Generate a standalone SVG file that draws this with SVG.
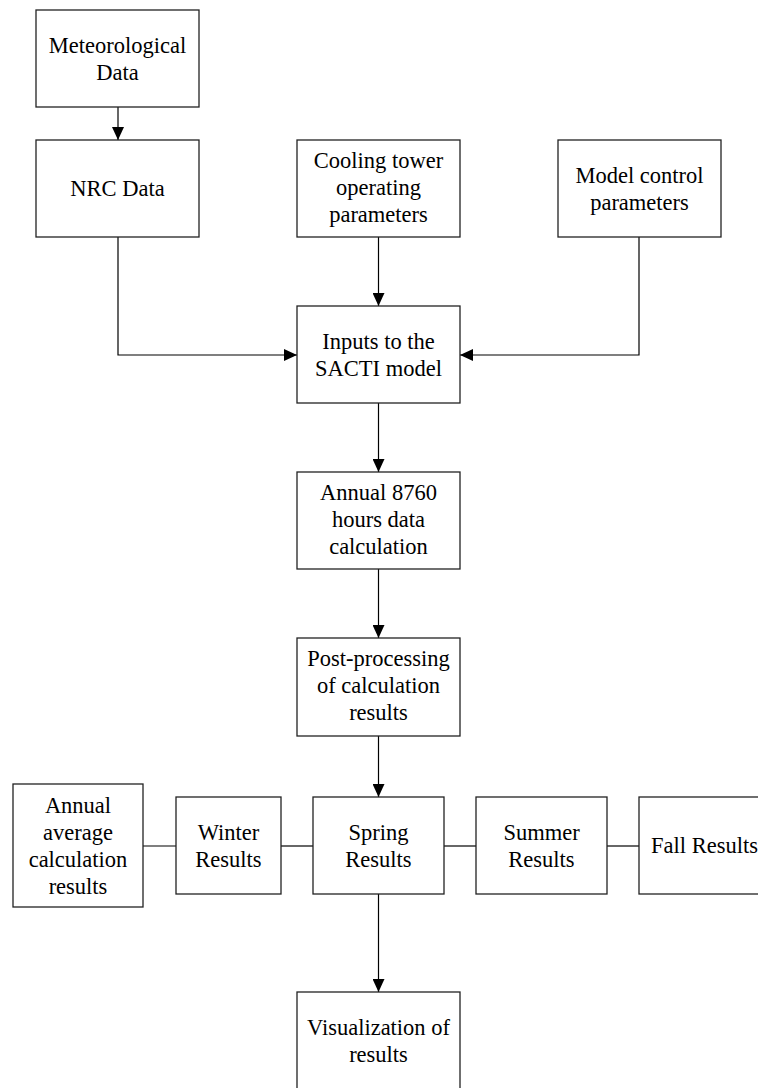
<svg xmlns="http://www.w3.org/2000/svg" width="758" height="1088" viewBox="0 0 758 1088">
<style>
.box{fill:#fff;stroke:#222;stroke-width:1.3}
.t{font-family:"Liberation Serif","Times New Roman",serif;font-size:22.5px;fill:#000;text-anchor:middle}
.c{fill:none;stroke:#000;stroke-width:1.2}
</style>
<defs>
<marker id="ah" markerUnits="userSpaceOnUse" markerWidth="13" markerHeight="12" refX="13" refY="6" orient="auto">
<path d="M0,0 L13,6 L0,12 z" fill="#000"/>
</marker>
</defs>
<rect width="758" height="1088" fill="#fff"/>
<g id="connectors">
<line class="c" x1="118" y1="107" x2="118" y2="140" marker-end="url(#ah)"/>
<line class="c" x1="378.5" y1="237" x2="378.5" y2="306" marker-end="url(#ah)"/>
<polyline class="c" points="118,237 118,355 297,355" marker-end="url(#ah)"/>
<polyline class="c" points="639,237 639,355 460,355" marker-end="url(#ah)"/>
<line class="c" x1="378.5" y1="403" x2="378.5" y2="472" marker-end="url(#ah)"/>
<line class="c" x1="378.5" y1="569" x2="378.5" y2="638" marker-end="url(#ah)"/>
<line class="c" x1="378.5" y1="736" x2="378.5" y2="797" marker-end="url(#ah)"/>
<line class="c" x1="378.5" y1="894" x2="378.5" y2="992" marker-end="url(#ah)"/>
<line class="c" x1="143" y1="846" x2="176" y2="846"/>
<line class="c" x1="281" y1="846" x2="313" y2="846"/>
<line class="c" x1="444" y1="846" x2="476" y2="846"/>
<line class="c" x1="607" y1="846" x2="639" y2="846"/>
</g>
<g id="met">
<rect class="box" x="36" y="10" width="163" height="97"/>
<text class="t" x="117.5" y="52.5">Meteorological</text>
<text class="t" x="117.5" y="79.5">Data</text>
</g>
<g id="nrc">
<rect class="box" x="36" y="140" width="163" height="97"/>
<text class="t" x="117.5" y="196">NRC Data</text>
</g>
<g id="cooling">
<rect class="box" x="297" y="140" width="163" height="97"/>
<text class="t" x="378.5" y="168">Cooling tower</text>
<text class="t" x="378.5" y="195">operating</text>
<text class="t" x="378.5" y="222">parameters</text>
</g>
<g id="model">
<rect class="box" x="558" y="140" width="163" height="97"/>
<text class="t" x="639.5" y="182.5">Model control</text>
<text class="t" x="639.5" y="209.5">parameters</text>
</g>
<g id="inputs">
<rect class="box" x="297" y="306" width="163" height="97"/>
<text class="t" x="378.5" y="348.5">Inputs to the</text>
<text class="t" x="378.5" y="375.5">SACTI model</text>
</g>
<g id="annual8760">
<rect class="box" x="297" y="472" width="163" height="97"/>
<text class="t" x="378.5" y="500">Annual 8760</text>
<text class="t" x="378.5" y="527">hours data</text>
<text class="t" x="378.5" y="554">calculation</text>
</g>
<g id="post">
<rect class="box" x="297" y="638" width="163" height="98"/>
<text class="t" x="378.5" y="666">Post-processing</text>
<text class="t" x="378.5" y="693">of calculation</text>
<text class="t" x="378.5" y="720">results</text>
</g>
<g id="annualavg">
<rect class="box" x="13" y="784" width="130" height="123"/>
<text class="t" x="78" y="812.5">Annual</text>
<text class="t" x="78" y="839.5">average</text>
<text class="t" x="78" y="866.5">calculation</text>
<text class="t" x="78" y="893.5">results</text>
</g>
<g id="winter">
<rect class="box" x="176" y="797" width="105" height="97"/>
<text class="t" x="228.5" y="839.5">Winter</text>
<text class="t" x="228.5" y="866.5">Results</text>
</g>
<g id="spring">
<rect class="box" x="313" y="797" width="131" height="97"/>
<text class="t" x="378.5" y="839.5">Spring</text>
<text class="t" x="378.5" y="866.5">Results</text>
</g>
<g id="summer">
<rect class="box" x="476" y="797" width="131" height="97"/>
<text class="t" x="541.5" y="839.5">Summer</text>
<text class="t" x="541.5" y="866.5">Results</text>
</g>
<g id="fall">
<rect class="box" x="639" y="797" width="131" height="97"/>
<text class="t" x="704.5" y="853">Fall Results</text>
</g>
<g id="visualization">
<rect class="box" x="297" y="992" width="163" height="97"/>
<text class="t" x="378.5" y="1034.5">Visualization of</text>
<text class="t" x="378.5" y="1061.5">results</text>
</g>
</svg>
